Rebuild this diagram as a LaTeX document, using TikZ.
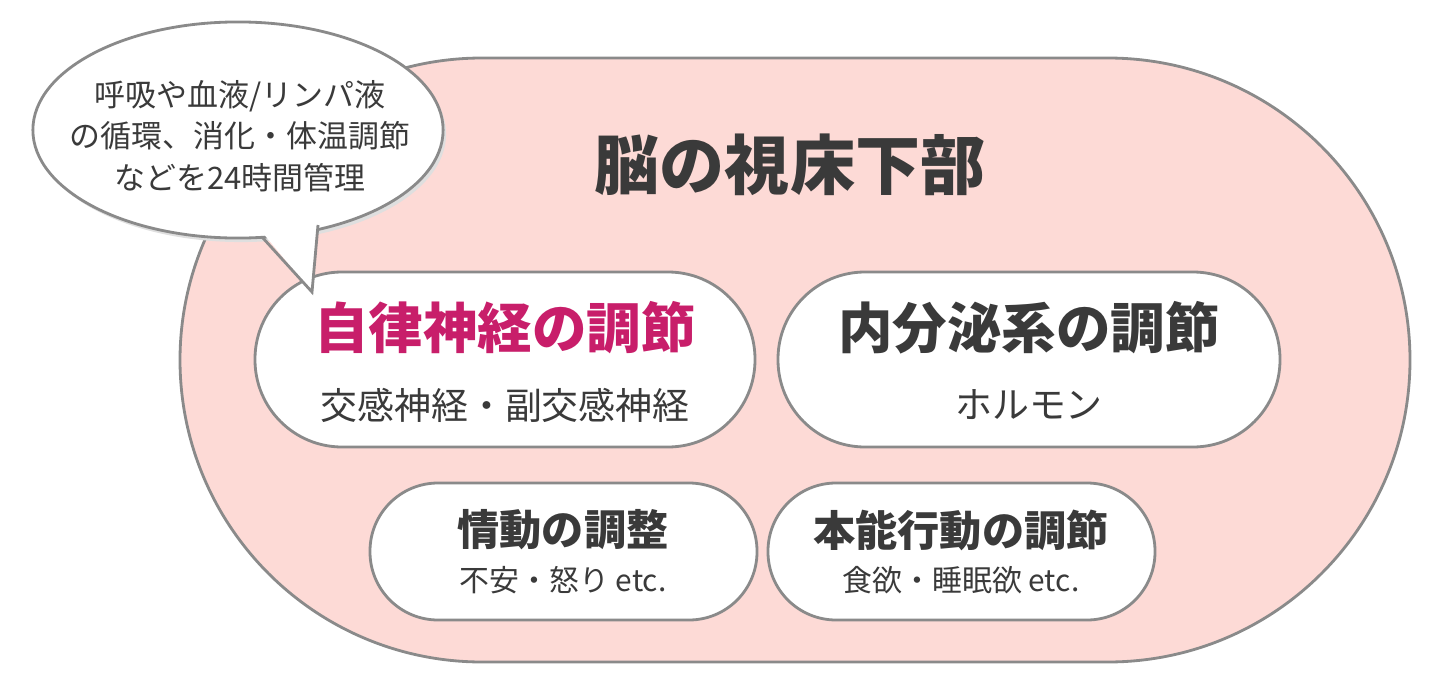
\documentclass[tikz,border=0pt]{standalone}
\usepackage{fontspec}
\setmainfont{Noto Sans CJK JP}
\usetikzlibrary{shadows}
\definecolor{brainpink}{HTML}{FDDAD6}
\definecolor{edgegray}{HTML}{8A8A8A}
\definecolor{textgray}{HTML}{3A3A3A}
\definecolor{autonom}{HTML}{C81E6A}
\tikzset{
  pill/.style={draw=edgegray, fill=white, line width=0.8pt, rounded corners=#1},
  head/.style={font=\bfseries\fontsize{15.5}{18}\selectfont, text=textgray},
  sub/.style={font=\fontsize{10.5}{12}\selectfont, text=textgray},
  shead/.style={font=\bfseries\fontsize{12}{14}\selectfont, text=textgray},
  ssub/.style={font=\fontsize{8.5}{10}\selectfont, text=textgray},
}
\begin{document}
\begin{tikzpicture}[x=0.01cm, y=-0.01cm]
  \useasboundingbox (0,0) rectangle (1448,700);
  % hypothalamus area
  \draw [draw=edgegray, fill=brainpink, line width=0.8pt, rounded corners=3.02cm] (180,58) rectangle (1410,662);
  \node [font=\bfseries\fontsize{18.5}{21}\selectfont, text=textgray] (hypo) at (790,165) {脳の視床下部};
  % boxes
  \draw [pill=0.87cm] (255,272) rectangle (755,447);
  \draw [pill=0.87cm] (778,272) rectangle (1280,447);
  \draw [pill=0.68cm] (370,483) rectangle (757,620);
  \draw [pill=0.68cm] (768,483) rectangle (1155,620);
  \node [head, text=autonom] (auto) at (505,328) {自律神経の調節};
  \node [sub] (autosub) at (505,405) {交感神経・副交感神経};
  \node [head] (endo) at (1029,328) {内分泌系の調節};
  \node [sub] (endosub) at (1029,405) {ホルモン};
  \node [shead] (emo) at (563,530) {情動の調整};
  \node [ssub] (emosub) at (563,580) {不安・怒り etc.};
  \node [shead] (inst) at (961,530) {本能行動の調節};
  \node [ssub] (instsub) at (961,580) {食欲・睡眠欲 etc.};
  % callout
  \fill [gray!25] (241,134) ellipse [x radius=2.05cm, y radius=1.08cm];
  \draw [draw=edgegray, fill=white, line width=0.8pt] (238,130) ellipse [x radius=2.05cm, y radius=1.08cm];
  \fill [white] (262,232) -- (312,292) -- (318,222) -- cycle;
  \draw [edgegray, line width=0.8pt] (262,237) -- (312,292) -- (318,225);
  \node [align=center, font=\fontsize{8.8}{11.8}\selectfont, text=textgray] (note) at (240,136)
    {呼吸や血液/リンパ液\\の循環、消化・体温調節\\などを24時間管理};
\end{tikzpicture}
\end{document}
